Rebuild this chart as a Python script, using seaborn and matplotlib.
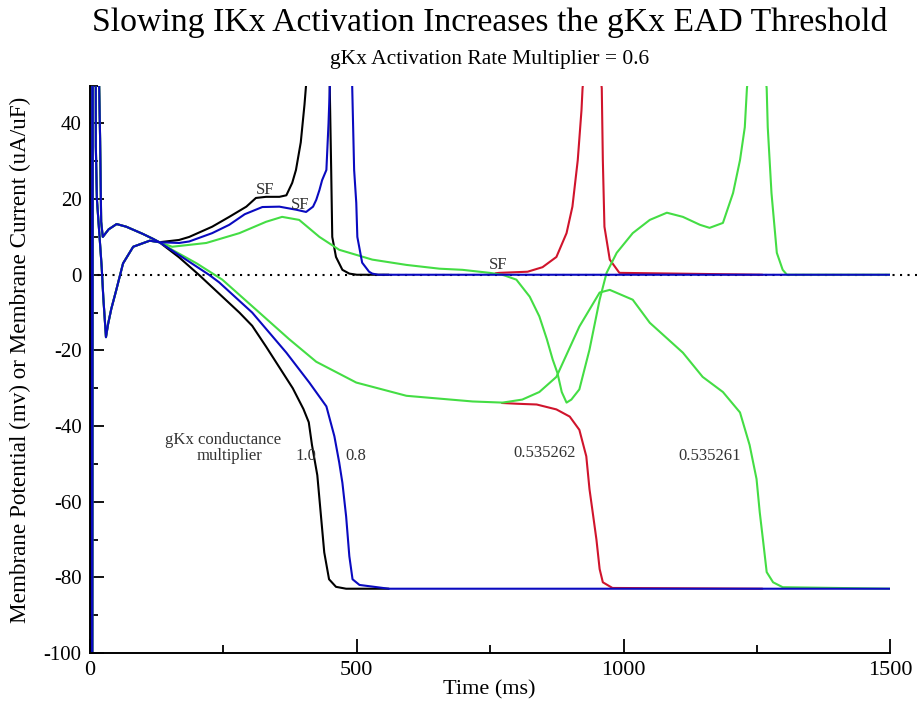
import matplotlib
matplotlib.use('Agg')
import matplotlib.pyplot as plt
import seaborn as sns
import numpy as np
from matplotlib.ticker import MultipleLocator

# ---------------- data ----------------
# shared early part (action potential upstroke / early currents)
t_early_v = [0, 3, 5, 16, 19, 21, 24, 35, 50, 68, 99, 118, 130]
v_early = [-85, -85, 120, 60, 36, 14, 10, 12, 13.4, 12.7, 10.8, 9.5, 8.6]
t_early_i = [0, 1, 3, 4, 6, 10, 11, 13, 22, 25, 30, 34, 40, 49, 62, 81, 112, 130]
i_early = [-33, -5, 0, -200, 200, 200, 34, 20, 2, -6, -16.5, -13, -9, -4.2, 3, 7.4, 9, 8.6]

# gKx multiplier 1.0 (black)
t_v_10 = [167, 204, 242, 280, 304, 330, 355, 380, 400, 410, 416, 426, 433, 439, 448, 461, 480, 560]
v_10 = [4.6, 0, -5, -10, -13.5, -19, -24.5, -30, -35.5, -39, -45, -53, -64, -73.4, -80.5, -82.5, -83, -83]
t_i_10 = [167, 186, 229, 261, 293, 311, 330, 355, 368, 379, 386, 395, 402, 406, 428, 449, 452, 454, 461, 473, 486, 500, 560]
i_10 = [9.2, 10, 12.7, 15.3, 18, 20.3, 20.6, 20.6, 21, 24.3, 27.7, 35, 45, 52, 150, 52, 27.7, 10, 4.7, 1.3, 0.3, 0, 0]

# gKx multiplier 0.8 (blue)
t_v_08 = [167, 223, 242, 304, 368, 411, 443, 458, 467, 473, 480, 486, 492, 505, 560, 1500]
v_08 = [5.2, 0, -2, -10, -20.6, -28.5, -34.8, -42.7, -49.6, -55, -63.9, -74.4, -80.5, -82, -83, -83]
t_i_08 = [167, 186, 229, 261, 290, 323, 355, 386, 405, 418, 424, 430, 435, 443, 447, 450, 470, 491,
          495, 499, 501, 510, 523, 529, 540, 1500]
i_08 = [8.4, 8.8, 11, 13.2, 16, 17.9, 18, 17.2, 16.6, 18, 19.8, 22.4, 25, 27.7, 40, 52, 150, 52,
        27.7, 19, 10, 3.2, 0.8, 0.3, 0, 0]

# gKx multiplier 0.535262 (red)
t_v_62 = [772, 800, 837, 874, 899, 917, 930, 936, 942, 949, 955, 961, 979, 1260]
v_62 = [-33.9, -34.1, -34.3, -35.6, -37.5, -41, -48, -56.7, -62.8, -70, -77.8, -81.3, -82.8, -83]
t_i_62 = [760, 767, 820, 848, 874, 893, 904, 914, 921, 923, 925, 940, 957, 959, 961, 964, 974, 992, 1260]
i_62 = [0.4, 0.5, 0.8, 2, 4.7, 11, 18, 30.3, 43.5, 49.3, 52, 150, 52, 49.3, 30.3, 12.7, 4, 0.5, 0]

# gKx multiplier 0.535261 (green)
t_v_61 = [154, 200, 248, 311, 373, 424, 499, 593, 717, 773, 810, 842, 874, 917, 955, 974, 1017,
          1049, 1111, 1148, 1186, 1218, 1236, 1249, 1255, 1261, 1268, 1280, 1298, 1500]
v_61 = [6.6, 3, -1.3, -9.2, -17, -23, -28.5, -32, -33.5, -33.8, -33, -31, -27, -13.7, -4.7, -4, -6.6,
        -12.7, -20.6, -27, -31, -36.4, -45, -54, -62.8, -70, -78.6, -81.3, -82.6, -83]
t_i_61 = [154, 218, 280, 330, 360, 392, 430, 467, 529, 593, 655, 698, 749, 773, 799, 824, 842, 856,
          867, 876, 884, 893, 902, 917, 936, 955, 968, 987, 1017, 1049, 1081, 1111, 1143, 1161, 1186,
          1205, 1218, 1227, 1231, 1233, 1250, 1266, 1268, 1270, 1277, 1287, 1298, 1306, 1500]
i_61 = [7.4, 8.4, 11, 14, 15.3, 14.5, 10, 6.6, 4, 2.6, 1.6, 1.3, 0.5, 0, -1.3, -5.8, -11, -17,
        -22.4, -26, -31, -33.8, -33, -30.3, -19.8, -6.6, 0.5, 5.8, 11, 14.5, 16.4, 15.3, 13.2, 12.4, 13.7,
        21.6, 30.3, 39, 49.3, 52, 150, 52, 49.3, 39, 21.6, 5.8, 1.3, 0, 0]

x_ticks = [0, 500, 1000, 1500]
y_ticks = [-100, -80, -60, -40, -20, 0, 20, 40]

col_10 = '#000000'
col_08 = '#0a0ac0'
col_62 = '#d0142c'
col_61 = '#44dd44'

# ---------------- figure ----------------
sns.set_theme(style='white')
plt.rcParams['font.family'] = ['Liberation Serif', 'DejaVu Serif']
plt.rcParams['axes.unicode_minus'] = False
plt.rcParams['text.color'] = 'black'
plt.rcParams['axes.labelcolor'] = 'black'
plt.rcParams['xtick.color'] = 'black'
plt.rcParams['ytick.color'] = 'black'

fig = plt.figure(figsize=(9.17, 7.04), dpi=100)
ax = fig.add_axes([0.0981, 0.0724, 0.873, 0.806])

ax.axhline(0, xmin=0, xmax=1.034, color='black', lw=1.5,
           linestyle=(0, (1, 2.6)), clip_on=False, zorder=1)

lw = 1.5
traces = [
    (t_early_v + t_v_10, v_early + v_10, col_10),
    (t_early_i + t_i_10, i_early + i_10, col_10),
    (t_v_62, v_62, col_62),
    (t_i_62, i_62, col_62),
    (t_early_v + t_v_61, v_early + v_61, col_61),
    (t_early_i + t_i_61, i_early + i_61, col_61),
    (t_early_v + t_v_08, v_early + v_08, col_08),
    (t_early_i + t_i_08, i_early + i_08, col_08),
]
for tx, vy, c in traces:
    sns.lineplot(x=tx, y=vy, ax=ax, color=c, lw=lw, sort=False, estimator=None)

ax.set_xlim(0, 1500)
ax.set_ylim(-100, 50)
ax.set_xticks(x_ticks)
ax.set_xticklabels([str(v) for v in x_ticks])
ax.set_yticks(y_ticks)
ax.set_yticklabels([str(v) for v in y_ticks])
ax.xaxis.set_minor_locator(MultipleLocator(250))
ax.yaxis.set_minor_locator(MultipleLocator(10))
ax.tick_params(which='major', direction='in', length=10, width=1.3,
               colors='black', pad=6, bottom=True, left=True, top=False, right=False)
ax.tick_params(axis='x', labelsize=16)
ax.tick_params(axis='y', labelsize=15)
ax.tick_params(which='minor', direction='in', length=6, width=1.3,
               bottom=True, left=True, top=False, right=False)
for s in ['top', 'right']:
    ax.spines[s].set_visible(False)
for s in ['left', 'bottom']:
    ax.spines[s].set_color('black')
    ax.spines[s].set_linewidth(1.4)
ax.set_xlabel('')
ax.set_ylabel('')

# annotations
ann_kw = dict(fontsize=12, color='#333333')
ax.text(328, 22.4, 'SF', ha='center', va='center', **ann_kw)
ax.text(394, 18.5, 'SF', ha='center', va='center', **ann_kw)
ax.text(764, 2.6, 'SF', ha='center', va='center', **ann_kw)
ax.text(141, -43.8, 'gKx conductance', ha='left', va='center', **ann_kw)
ax.text(199, -48, 'multiplier', ha='left', va='center', **ann_kw)
ax.text(386, -48, '1.0', ha='left', va='center', **ann_kw)
ax.text(478, -48, '0.8', ha='left', va='center', **ann_kw)
ax.text(794, -47, '0.535262', ha='left', va='center', **ann_kw)
ax.text(1103, -48, '0.535261', ha='left', va='center', **ann_kw)

fig.text(0.534, 0.968, 'Slowing IKx Activation Increases the gKx EAD Threshold',
         ha='center', va='center', fontsize=24.3)
fig.text(0.534, 0.915, 'gKx Activation Rate Multiplier = 0.6',
         ha='center', va='center', fontsize=15.5)
fig.text(0.534, 0.02, 'Time (ms)', ha='center', va='center', fontsize=16)
fig.text(0.022, 0.489, 'Membrane Potential (mv) or Membrane Current (uA/uF)',
         ha='center', va='center', rotation=90, fontsize=16.7)

fig.savefig('out.png', dpi=100)
